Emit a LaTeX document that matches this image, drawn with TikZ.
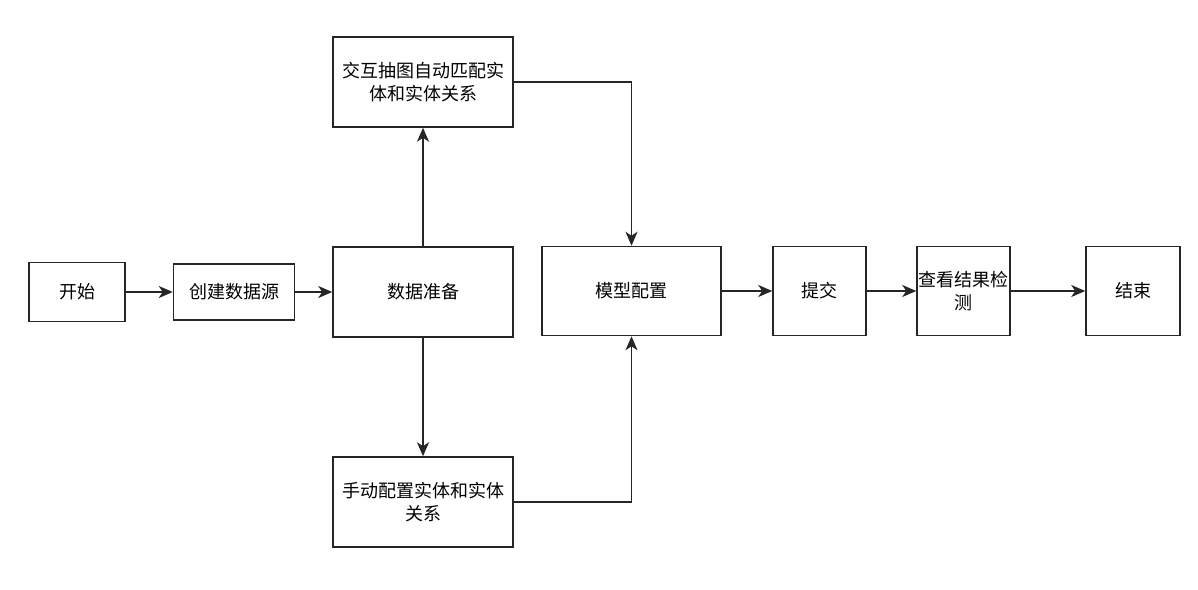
\documentclass[tikz,border=0pt]{standalone}
\usepackage{fontspec}
\newfontfamily\cjk{Noto Sans CJK SC}
\usetikzlibrary{arrows.meta}
\begin{document}
\begin{tikzpicture}[x=1pt,y=-1pt,
  box/.style={draw=black!85,line width=1.5pt,fill=white,inner sep=0pt,align=center,
    font=\cjk\fontsize{18}{23}\selectfont,text=black},
  conn/.style={draw=black!85,line width=1.5pt,-{Stealth[length=14pt,width=12pt,inset=4pt]}}]
\useasboundingbox (0,0) rectangle (1198,589);
\node[box,minimum width=96pt,minimum height=59pt] (start) at (77,292) {开始};
\node[box,minimum width=121pt,minimum height=56pt] (src) at (234,292) {创建数据源};
\node[box,minimum width=180pt,minimum height=90pt] (prep) at (423,292) {数据准备};
\node[box,minimum width=180pt,minimum height=90pt] (auto) at (423,82) {交互抽图自动匹配实\\体和实体关系};
\node[box,minimum width=180pt,minimum height=90pt] (manual) at (423,502) {手动配置实体和实体\\关系};
\node[box,minimum width=179pt,minimum height=89pt] (model) at (631.5,291) {模型配置};
\node[box,minimum width=93pt,minimum height=89pt] (submit) at (819.5,291) {提交};
\node[box,minimum width=93pt,minimum height=89pt] (check) at (963.5,291) {查看结果检\\测};
\node[box,minimum width=94pt,minimum height=89pt] (end) at (1133,291) {结束};
\draw[conn] (start) -- (src);
\draw[conn] (src) -- (prep);
\draw[conn] (prep) -- (auto);
\draw[conn] (prep) -- (manual);
\draw[conn] (auto.east) -| (model.north);
\draw[conn] (manual.east) -| (model.south);
\draw[conn] (model) -- (submit);
\draw[conn] (submit) -- (check);
\draw[conn] (check) -- (end);
\end{tikzpicture}
\end{document}
